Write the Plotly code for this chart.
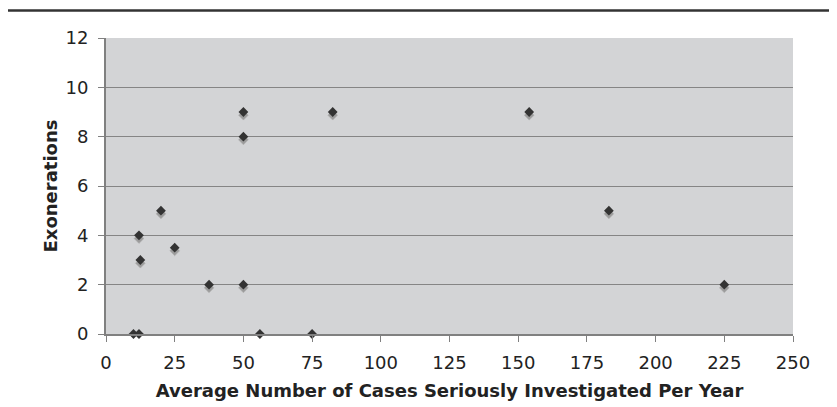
import plotly.graph_objects as go

cases_per_year = [10, 12, 12, 12.5, 20, 25, 37.5, 50, 50, 50, 56, 75, 82.5, 154, 183, 225]
exonerations = [0, 0, 4, 3, 5, 3.5, 2, 9, 8, 2, 0, 0, 9, 9, 5, 2]

x_ticks = [0, 25, 50, 75, 100, 125, 150, 175, 200, 225, 250]
y_ticks = [0, 2, 4, 6, 8, 10, 12]

shadow_offset = 0.13

fig = go.Figure()
fig.add_trace(go.Scatter(
    x=cases_per_year, y=[v - shadow_offset for v in exonerations],
    mode="markers", cliponaxis=False, hoverinfo="skip",
    marker=dict(symbol="diamond", size=7.5, color="#9c9c9c", line=dict(width=0.6, color="#b0b0b0")),
    showlegend=False,
))
fig.add_trace(go.Scatter(
    x=cases_per_year, y=exonerations,
    mode="markers", cliponaxis=False,
    marker=dict(symbol="diamond", size=7.5, color="#333333", line=dict(width=0)),
    showlegend=False,
))

font_family = "DejaVu Sans, Verdana, sans-serif"

fig.update_layout(
    width=837, height=407,
    margin=dict(l=98, r=52, t=30, b=81),
    paper_bgcolor="white",
    plot_bgcolor="#d3d4d6",
    font=dict(family=font_family, color="#222222"),
    xaxis=dict(
        range=[0, 250], tickvals=x_ticks, ticktext=[str(t) for t in x_ticks],
        showgrid=False, zeroline=False,
        showline=True, linecolor="#808080", linewidth=2,
        ticks="outside", ticklen=6, tickcolor="#808080", tickwidth=1,
        ticklabelstandoff=5,
        tickfont=dict(size=18, color="#222222"),
        title=dict(text="<b>Average Number of Cases Seriously Investigated Per Year</b>",
                   font=dict(size=18, color="#222222"), standoff=13),
    ),
    yaxis=dict(
        range=[0, 12], tickvals=y_ticks, ticktext=[str(t) for t in y_ticks],
        showgrid=True, gridcolor="#858585", gridwidth=1,
        zeroline=False,
        showline=True, linecolor="#808080", linewidth=2,
        ticks="outside", ticklen=6, tickcolor="#808080", tickwidth=1,
        ticklabelstandoff=6,
        tickfont=dict(size=18, color="#222222"),
        title=dict(text="<b>Exonerations</b>", font=dict(size=18, color="#222222"), standoff=3),
    ),
    shapes=[dict(type="line", xref="paper", yref="paper", x0=-0.2, x1=1.2,
                 y0=1.093, y1=1.093, line=dict(color="#333333", width=2.5))],
)

fig.write_html("out.html")
